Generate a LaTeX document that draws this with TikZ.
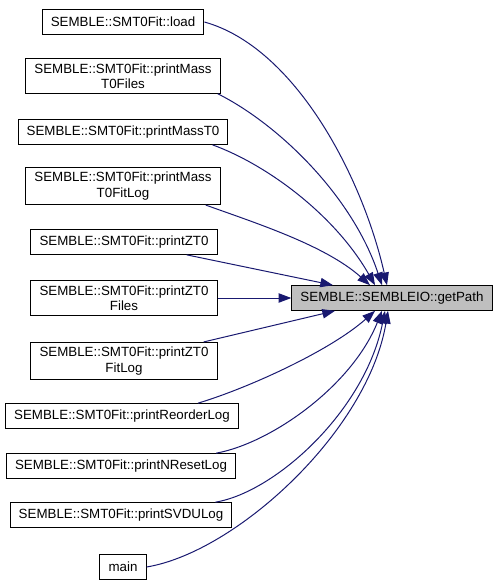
\documentclass[tikz,border=0pt]{standalone}
\usepackage{fontspec}
\setmainfont{Liberation Sans}
\usetikzlibrary{calc}
\usetikzlibrary{arrows.meta}

\definecolor{callblue}{HTML}{191970}
\definecolor{targetgray}{HTML}{BFBFBF}

\begin{document}
\begin{tikzpicture}[x=0.75pt, y=-0.75pt,
    every node/.style={font=\fontsize{10}{11.5}\selectfont},
    fnbox/.style={draw=black, line width=0.75pt, fill=white, align=center,
        inner xsep=6.5pt, inner ysep=3.5pt, minimum height=18.5pt},
    pathbox/.style={fnbox, fill=targetgray},
    callarrow/.style={-{Triangle[length=9.5pt,width=7pt]}, callblue, line width=0.75pt}]

\useasboundingbox (0,0) rectangle (500,583);

% =========================================================
% Call graph: who calls SEMBLE::SEMBLEIO::getPath
% =========================================================

% --- 1. CALLEE (target, gray) ---
\node[pathbox] (getpath) at (392,298) {SEMBLE::SEMBLEIO::getPath};

% --- 2. CALLERS (left column) ---
\node[fnbox] (load)       at (123,22)  {SEMBLE::SMT0Fit::load};
\node[fnbox] (massFiles)  at (123,76)  {SEMBLE::SMT0Fit::printMass\\T0Files};
\node[fnbox] (massT0)     at (123,132) {SEMBLE::SMT0Fit::printMassT0};
\node[fnbox] (massFitLog) at (123,186) {SEMBLE::SMT0Fit::printMass\\T0FitLog};
\node[fnbox] (zt0)        at (124,242) {SEMBLE::SMT0Fit::printZT0};
\node[fnbox] (zt0Files)   at (124,298) {SEMBLE::SMT0Fit::printZT0\\Files};
\node[fnbox] (zt0FitLog)  at (124,361) {SEMBLE::SMT0Fit::printZT0\\FitLog};
\node[fnbox] (reorder)    at (122,416) {SEMBLE::SMT0Fit::printReorderLog};
\node[fnbox] (nreset)     at (121,466) {SEMBLE::SMT0Fit::printNResetLog};
\node[fnbox] (svdu)       at (121,515) {SEMBLE::SMT0Fit::printSVDULog};
\node[fnbox] (main)       at (123,567) {main};

% --- 3. CALLS FROM ABOVE ---
\draw[callarrow] (load.east)
    .. controls +(90,25) and +(-25,-110) .. ($(getpath.north)+(-5,0)$);
\draw[callarrow] ($(massFiles.south east)+(-3,0)$)
    .. controls +(60,30) and +(-30,-90) .. ($(getpath.north)+(-10,0)$);
\draw[callarrow] ($(massT0.south east)+(-16,0)$)
    .. controls +(55,20) and +(-40,-70) .. ($(getpath.north)+(-17,0)$);
\draw[callarrow] ($(massFitLog.south east)+(-15,0)$)
    .. controls +(50,18) and +(-45,-40) .. ($(getpath.north)+(-22,0)$);
\draw[callarrow] ($(zt0.south east)+(-31,0)$) -- ($(getpath.north)+(-59,0)$);

% --- 4. STRAIGHT CALL ---
\draw[callarrow] (zt0Files.east) -- (getpath.west);

% --- 5. CALLS FROM BELOW ---
\draw[callarrow] ($(zt0FitLog.north east)+(-14,0)$) -- ($(getpath.south)+(-57,0)$);
\draw[callarrow] ($(reorder.north east)+(-41,0)$)
    .. controls +(50,-15) and +(-45,40) .. ($(getpath.south)+(-17,0)$);
\draw[callarrow] ($(nreset.north east)+(-20,0)$)
    .. controls +(55,-10) and +(-30,75) .. ($(getpath.south)+(-10,0)$);
\draw[callarrow] ($(svdu.north east)+(-17,0)$)
    .. controls +(60,-10) and +(-20,100) .. ($(getpath.south)+(-7,0)$);
\draw[callarrow] (main.east)
    .. controls +(90,-15) and +(-20,120) .. ($(getpath.south)+(-4,0)$);

\end{tikzpicture}
\end{document}
